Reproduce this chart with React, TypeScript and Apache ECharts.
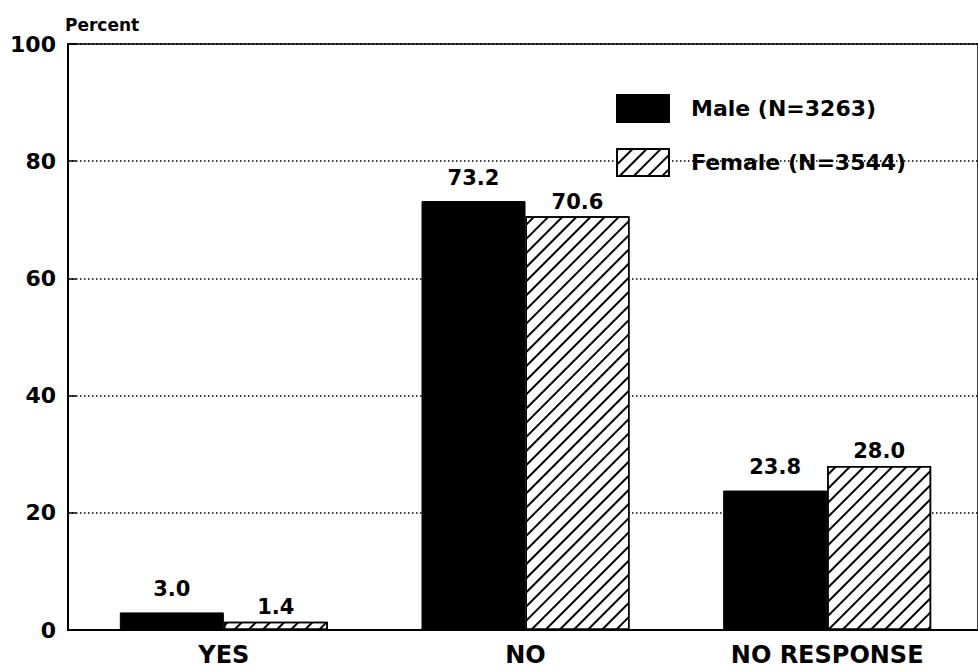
import React, { useEffect, useRef } from "react";
import * as echarts from "echarts";

const categories = ["YES", "NO", "NO RESPONSE"];
const maleValues = [3.0, 73.2, 23.8];
const femaleValues = [1.4, 70.6, 28.0];
const seriesNames = ["Male (N=3263)", "Female (N=3544)"];
const yTicks = { min: 0, max: 100, interval: 20 };
const yAxisTitle = "Percent";

const FONT = "DejaVu Sans";

export default function App() {
  const ref = useRef<HTMLDivElement>(null);
  useEffect(() => {
    if (!ref.current) return;
    const chart = echarts.init(ref.current, null, { renderer: "svg" });
    const labelBase = {
      show: true,
      position: "top",
      color: "#000",
      fontFamily: FONT,
      fontWeight: "bold",
      fontSize: 21,
      formatter: (p: any) => Number(p.value).toFixed(1),
    };
    chart.setOption({
      animation: false,
      backgroundColor: "#fff",
      grid: [
        {
          left: 68,
          top: 44,
          width: 918,
          height: 586,
          show: true,
          borderColor: "#000",
          borderWidth: 1.5,
          backgroundColor: "transparent",
        },
        {
          left: 73,
          top: 44,
          width: 914,
          height: 586,
        },
      ],
      legend: {
        orient: "vertical",
        left: 616,
        top: 94,
        padding: 0,
        itemWidth: 52,
        itemHeight: 27,
        itemGap: 25,
        icon: "rect",
        textStyle: {
          fontFamily: FONT,
          fontWeight: "bold",
          fontSize: 22,
          color: "#000",
          padding: [0, 0, 0, 17],
        },
        data: seriesNames,
      },
      xAxis: [
        {
          gridIndex: 0,
          type: "category",
          data: categories,
          axisLine: { show: true, lineStyle: { color: "#000", width: 2 } },
          axisTick: { show: false },
          axisLabel: { show: false },
        },
        {
          gridIndex: 1,
          type: "category",
          data: categories,
          axisLine: { show: false },
          axisTick: { show: false },
          axisLabel: {
            color: "#000",
            fontFamily: FONT,
            fontWeight: "bold",
            fontSize: 24,
            margin: 13,
          },
        },
      ],
      yAxis: [
        {
          gridIndex: 0,
          type: "value",
          min: yTicks.min,
          max: yTicks.max,
          interval: yTicks.interval,
          name: yAxisTitle,
          nameLocation: "end",
          nameGap: 11,
          nameTextStyle: {
            color: "#000",
            fontFamily: FONT,
            fontWeight: "bold",
            fontSize: 17,
            align: "left",
            padding: [0, 0, 0, -3],
          },
          axisLine: { show: true, lineStyle: { color: "#000", width: 2 } },
          axisTick: { show: true, inside: true, length: 8, lineStyle: { color: "#000", width: 1.5 } },
          axisLabel: {
            color: "#000",
            fontFamily: FONT,
            fontWeight: "bold",
            fontSize: 22,
            margin: 12,
          },
          splitLine: {
            show: true,
            lineStyle: { color: "#000", width: 1.5, type: [1.5, 2.5] },
          },
        },
        {
          gridIndex: 1,
          type: "value",
          min: yTicks.min,
          max: yTicks.max,
          interval: yTicks.interval,
          show: false,
          splitLine: { show: false },
        },
      ],
      series: [
        {
          name: seriesNames[0],
          type: "bar",
          xAxisIndex: 1,
          yAxisIndex: 1,
          data: maleValues,
          barWidth: 104,
          barGap: "0%",
          itemStyle: { color: "#000", borderColor: "#000", borderWidth: 1 },
          label: { ...labelBase, distance: 13 },
        },
        {
          name: seriesNames[1],
          type: "bar",
          xAxisIndex: 1,
          yAxisIndex: 1,
          data: femaleValues,
          barWidth: 104,
          barGap: "0%",
          itemStyle: {
            color: "#fff",
            borderColor: "#000",
            borderWidth: 1.5,
            decal: {
              symbol: "rect",
              symbolSize: 1,
              dashArrayX: [1, 0],
              dashArrayY: [1.6, 7.6],
              rotation: -Math.PI / 4,
              color: "#000",
            },
          },
          label: { ...labelBase, distance: 4 },
        },
      ],
    });
    return () => chart.dispose();
  }, []);
  return <div ref={ref} style={{ width: 978, height: 671, position: "absolute", left: 0, top: 0 }} />;
}
